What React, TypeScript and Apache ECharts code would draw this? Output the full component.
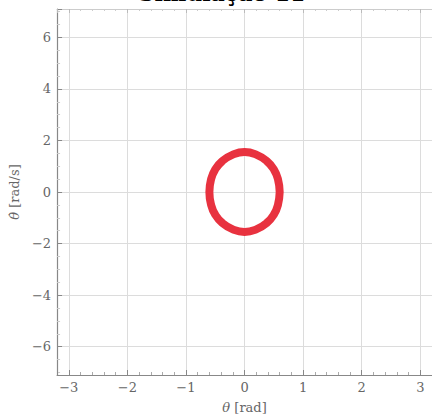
import React, { useEffect, useRef } from "react";
import * as echarts from "echarts";

const titleText = "Simulação 11";
const xName = "{i|θ} [rad]";
const yName = "{i|θ̇} [rad/s]";
const xRange = [-3.2, 3.2];
const yRange = [-7.1, 7.1];
// phase-space loop (theta, theta dot)
const theta = [0.6, 0.57, 0.5, 0.38, 0.2, 0.0, -0.2, -0.38, -0.5, -0.57, -0.6, -0.57, -0.5, -0.38, -0.2, 0.0, 0.2, 0.38, 0.5, 0.57, 0.6];
const thetaDot = [0.0, 0.5, 0.88, 1.2, 1.45, 1.55, 1.45, 1.2, 0.88, 0.5, 0.0, -0.5, -0.88, -1.2, -1.45, -1.55, -1.45, -1.2, -0.88, -0.5, 0.0];

const serif = "DejaVu Serif";

export default function App() {
  const ref = useRef<HTMLDivElement>(null);
  useEffect(() => {
    const chart = echarts.init(ref.current!, null, { renderer: "svg" });
    const intLabel = (v: number) => {
      if (Math.abs(v - Math.round(v)) > 1e-6) return "";
      const r = Math.round(v);
      return r < 0 ? "\u2212" + Math.abs(r) : String(r);
    };
    const label = { color: "#666", fontFamily: serif, fontSize: 13, formatter: intLabel };
    const axisLine = { show: true, onZero: false, lineStyle: { color: "#888", width: 1.2 } };
    const split = { show: true, lineStyle: { color: "#dcdcdc", width: 1 } };
    const nameStyle = {
      color: "#666",
      fontFamily: serif,
      fontSize: 13,
      rich: { i: { color: "#666", fontFamily: serif, fontSize: 13, fontStyle: "italic" } },
    };
    chart.setOption({
      animation: false,
      backgroundColor: "#fff",
      textStyle: { fontFamily: serif },
      grid: { left: 53, top: 9, width: 383, height: 369, containLabel: false },
      graphic: [
        {
          type: "text",
          x: 222,
          y: 4,
          style: {
            text: titleText,
            fontFamily: serif,
            fontSize: 22,
            fontWeight: "bold",
            fill: "#000",
            textAlign: "center",
            textVerticalAlign: "bottom",
          },
        },
      ],
      xAxis: [
        {
          type: "value",
          min: xRange[0],
          max: xRange[1],
          splitNumber: 6,
          position: "bottom",
          axisLine,
          axisTick: { show: true, inside: true, length: 5, lineStyle: { color: "#888" } },
          minorTick: { show: true, splitNumber: 5, length: 3, lineStyle: { color: "#aaa" } },
          axisLabel: { ...label, margin: 6, showMinLabel: false, showMaxLabel: false },
          splitLine: split,
          name: xName,
          nameLocation: "middle",
          nameGap: 26,
          nameTextStyle: nameStyle,
        },
        {
          type: "value",
          min: xRange[0],
          max: xRange[1],
          splitNumber: 6,
          position: "top",
          axisLine: { show: true, onZero: false, lineStyle: { color: "#ccc", width: 1 } },
          axisTick: { show: true, inside: true, length: 4, lineStyle: { color: "#bbb" } },
          minorTick: { show: true, splitNumber: 5, length: 2, lineStyle: { color: "#ccc" } },
          axisLabel: { show: false },
          splitLine: { show: false },
        },
      ],
      yAxis: [
        {
          type: "value",
          min: yRange[0],
          max: yRange[1],
          splitNumber: 7,
          axisLine,
          axisTick: { show: true, inside: true, length: 5, lineStyle: { color: "#888" } },
          minorTick: { show: true, splitNumber: 4, length: 3, lineStyle: { color: "#ccc" } },
          axisLabel: { ...label, margin: 6, showMinLabel: false, showMaxLabel: false },
          splitLine: split,
          name: yName,
          nameLocation: "middle",
          nameGap: 32,
          nameTextStyle: nameStyle,
        },
      ],
      series: [
        {
          type: "line",
          xAxisIndex: 0,
          yAxisIndex: 0,
          data: theta.map((t, i) => [t, thetaDot[i]]),
          smooth: true,
          showSymbol: false,
          lineStyle: { color: "#e8323f", width: 8 },
        },
      ],
    });
    return () => chart.dispose();
  }, []);
  return (
    <div
      ref={ref}
      style={{ position: "fixed", left: 0, top: 0, width: 432, height: 419 }}
    />
  );
}
